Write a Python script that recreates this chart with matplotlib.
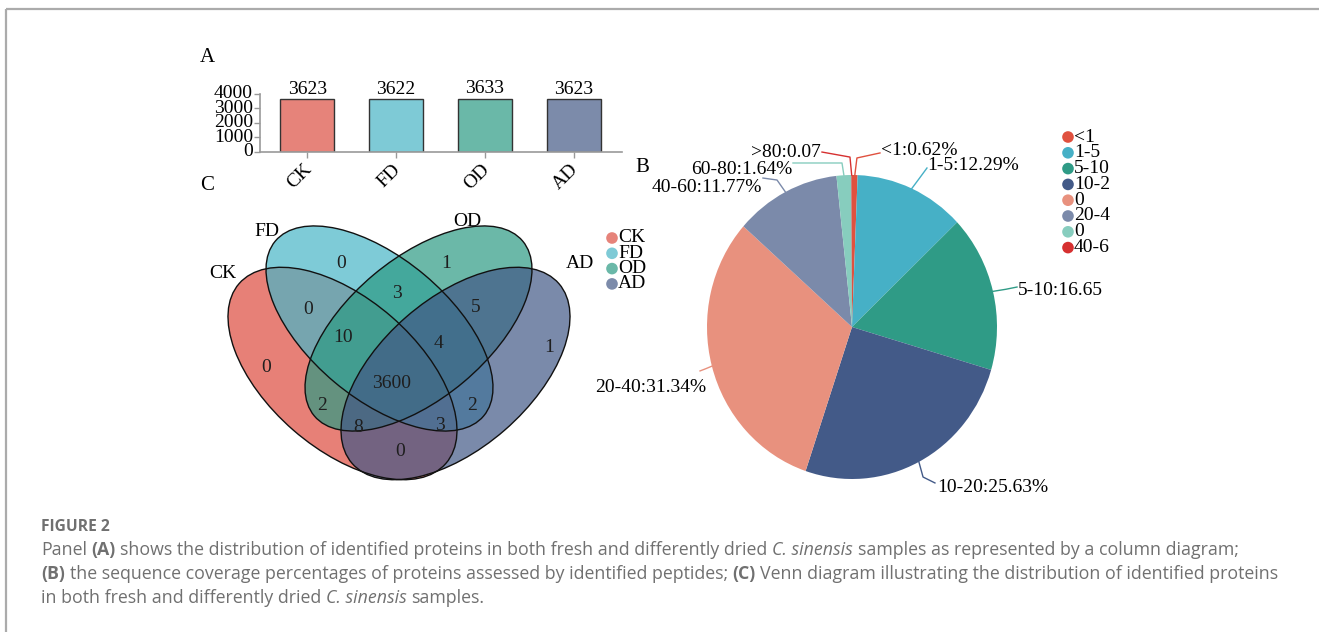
import numpy as np
import matplotlib
matplotlib.use("Agg")
import matplotlib.pyplot as plt
import matplotlib.transforms as mtransforms
from matplotlib.patches import Ellipse

W, H = 1319, 632

# ---------------- data ----------------
groups = ["CK", "FD", "OD", "AD"]
protein_counts = [3623, 3622, 3633, 3623]
group_colors = ["#E6837A", "#7ECAD6", "#6AB8A8", "#7C8BAA"]
bar_yticks = [0, 1000, 2000, 3000, 4000]

coverage_pct = [0.62, 12.29, 16.65, 25.63, 31.34, 11.77, 1.64, 0.07]
coverage_text = ["<1:0.62%", "1-5:12.29%", "5-10:16.65", "10-20:25.63%",
                 "20-40:31.34%", "40-60:11.77%", "60-80:1.64%", ">80:0.07"]
pie_colors = ["#E0513F", "#46B0C6", "#2F9B86", "#435A88",
              "#E8917E", "#7B8AAA", "#87CDBE", "#D63030"]
pie_legend_labels = ["<1", "1-5", "5-10", "10-2", "0", "20-4", "0", "40-6"]

venn_regions = ["FD", "OD", "CK&FD", "FD&OD", "OD&AD", "CK&FD&OD", "FD&OD&AD",
                "CK", "AD", "CK&FD&OD&AD", "CK&OD", "FD&AD", "CK&OD&AD",
                "CK&FD&AD", "CK&AD"]
venn_counts = [0, 1, 0, 3, 5, 10, 4, 0, 1, 3600, 2, 2, 8, 3, 0]
venn_fill = ["#DE4A3E", "#47B5C7", "#2C9A83", "#425886"]

caption_lines = [
    [("Panel ", "normal", "normal"), ("(A)", "bold", "normal"),
     (" shows the distribution of identified proteins in both fresh and differently dried ", "normal", "normal"),
     ("C. sinensis", "normal", "italic"),
     (" samples as represented by a column diagram;", "normal", "normal")],
    [("(B)", "bold", "normal"),
     (" the sequence coverage percentages of proteins assessed by identified peptides; ", "normal", "normal"),
     ("(C)", "bold", "normal"),
     (" Venn diagram illustrating the distribution of identified proteins", "normal", "normal")],
    [("in both fresh and differently dried ", "normal", "normal"),
     ("C. sinensis", "normal", "italic"), (" samples.", "normal", "normal")],
]

# ---------------- layout helpers ----------------
SERIF = ["Liberation Serif", "DejaVu Serif"]
plt.rcParams["font.family"] = SERIF

fig = plt.figure(figsize=(W / 100, H / 100), dpi=100)


def rect(left, top, w, h):
    return [left / W, 1 - (top + h) / H, w / W, h / H]


# ---------------- Panel A: bars ----------------
axA = fig.add_axes(rect(260, 93.5, 362, 58.5))
x = np.arange(len(groups))
bars = axA.bar(x, protein_counts, width=0.6, color=group_colors,
               edgecolor="#333333", linewidth=1.0)
axA.bar_label(bars, labels=[str(v) for v in protein_counts], padding=1, fontsize=14)
axA.set_xlim(-0.53, 3.54)
axA.set_ylim(0, 4000)
axA.set_yticks(bar_yticks)
axA.set_xticks(x)
axA.set_xticklabels([])
lab_tr = mtransforms.offset_copy(axA.transData, fig=fig, x=8, y=-9, units="dots")
for xi, g in zip(x, groups):
    axA.text(xi, 0, g, rotation=45, ha="right", va="top", fontsize=14,
             transform=lab_tr, clip_on=False)
axA.tick_params(axis="y", labelsize=14, length=4, width=1, color="#999999", pad=1)
axA.tick_params(axis="x", length=4, width=1, color="#999999", pad=2)
for s in ["top", "right"]:
    axA.spines[s].set_visible(False)
for s in ["left", "bottom"]:
    axA.spines[s].set_color("#9a9a9a")
    axA.spines[s].set_linewidth(1.2)
for lab in axA.get_yticklabels():
    lab.set_verticalalignment("center")

# ---------------- Panel C: Venn (axes units = pixels) ----------------
axC = fig.add_axes(rect(200, 180, 400, 320))
axC.set_xlim(200, 600)
axC.set_ylim(500, 180)
axC.axis("off")
# (centre, semi-major, semi-minor, angle)
ell_specs = [((342.5, 373.5), 137, 75, 41),
             ((379.5, 328.5), 136, 70, 40),
             ((418.5, 328.5), 136, 70, -40),
             ((455.5, 373.5), 137, 75, -41)]
for (c, a, b, ang), col in zip(ell_specs, venn_fill):
    axC.add_patch(Ellipse(c, 2 * a, 2 * b, angle=ang, facecolor=col, alpha=0.7,
                          edgecolor="none", zorder=1))
for (c, a, b, ang) in ell_specs:
    axC.add_patch(Ellipse(c, 2 * a, 2 * b, angle=ang, facecolor="none",
                          edgecolor="#111111", linewidth=1.0, zorder=2))

venn_pos = {
    "FD": (341, 263), "OD": (446, 263), "CK&FD": (308, 309),
    "FD&OD": (397, 293), "OD&AD": (476, 307), "CK&FD&OD": (343, 337),
    "FD&OD&AD": (438, 344), "CK": (266, 368), "AD": (549, 348),
    "CK&FD&OD&AD": (392, 383), "CK&OD": (322, 406), "FD&AD": (472, 406),
    "CK&OD&AD": (358, 427), "CK&FD&AD": (440, 425), "CK&AD": (400, 452),
}
for reg, cnt in zip(venn_regions, venn_counts):
    px, py = venn_pos[reg]
    axC.text(px, py, str(cnt), ha="center", va="center", fontsize=14,
             color="#1e1e1e", zorder=3)
set_label_pos = [(223, 274), (267, 231), (467, 221), (580, 263)]
for g, (px, py) in zip(groups, set_label_pos):
    axC.text(px, py, g, ha="center", va="center", fontsize=14, color="black")

# ---------------- Panel B: pie ----------------
axB = fig.add_axes(rect(562, 23, 580, 608))
wedges, _ = axB.pie(coverage_pct, colors=pie_colors, startangle=90,
                    counterclock=False, radius=1.0,
                    wedgeprops=dict(linewidth=0))
axB.set_aspect("auto")
axB.set_xlim(-2, 2)
axB.set_ylim(-2, 2)
axB.axis("off")

# leader lines: (elbow, end, text anchor, ha)
leader = [
    ((0.034, 1.112), (0.193, 1.145), (0.200, 1.160), "left"),
    ((0.470, 0.985), (0.517, 1.046), (0.522, 1.062), "left"),
    ((1.060, 0.248), (1.138, 0.263), (1.145, 0.240), "left"),
    ((0.490, -0.987), (0.572, -1.026), (0.586, -1.053), "left"),
    ((-1.010, -0.275), (-1.048, -0.289), (-1.005, -0.395), "right"),
    ((-0.517, 0.967), (-0.614, 0.980), (-0.622, 0.915), "right"),
    ((-0.069, 1.079), (-0.407, 1.079), (-0.414, 1.039), "right"),
    ((-0.014, 1.118), (-0.207, 1.151), (-0.214, 1.151), "right"),
]
for wdg, txt, col, (elb, end, tp, ha) in zip(wedges, coverage_text, pie_colors, leader):
    mid = np.deg2rad((wdg.theta1 + wdg.theta2) / 2)
    sx, sy = np.cos(mid), np.sin(mid)
    axB.plot([sx, elb[0], end[0]], [sy, elb[1], end[1]], color=col, lw=1.0,
             solid_joinstyle="round")
    axB.text(tp[0], tp[1], txt, ha=ha, va="center", fontsize=14, color="black")

# ---------------- overlay (pixel coords) ----------------
ov = fig.add_axes([0, 0, 1, 1], zorder=10)
ov.set_xlim(0, W)
ov.set_ylim(H, 0)
ov.axis("off")
ov.patch.set_alpha(0)

# frame
ov.plot([6, W], [9, 9], color="#ABABAB", lw=1.6, solid_capstyle="butt")
ov.plot([6, 6], [9, H], color="#ABABAB", lw=1.6, solid_capstyle="butt")

# panel letters
ov.text(207, 57, "A", fontsize=15, ha="center", va="center")
ov.text(207, 186, "C", fontsize=15, ha="center", va="center")
ov.text(642, 167, "B", fontsize=15, ha="center", va="center")

# venn legend
for i, (g, c) in enumerate(zip(groups, group_colors)):
    yy = 238 + i * 15.3
    ov.scatter([612], [yy], s=70, color=c, edgecolor="none")
    ov.text(618, yy, g, fontsize=14, ha="left", va="center")

# pie legend
for i, (lab, c) in enumerate(zip(pie_legend_labels, pie_colors)):
    yy = 137 + i * 15.8
    ov.scatter([1068], [yy], s=70, color=c, edgecolor="none")
    ov.text(1074, yy, lab, fontsize=14, ha="left", va="center")

# caption
renderer = fig.canvas.get_renderer()
CAP_FONT = ["Open Sans", "DejaVu Sans"]
CAP_COLOR = "#707070"


def text_w(s, size, weight, style):
    t = ov.text(0, 0, s, fontsize=size, fontweight=weight, fontstyle=style,
                family=CAP_FONT)
    w = t.get_window_extent(renderer).width
    t.remove()
    return w


def space_w(size):
    return text_w("a a", size, "normal", "normal") - text_w("aa", size, "normal", "normal")


def line_width(runs, size):
    sp = space_w(size)
    tot = 0
    for s, wt, st in runs:
        lead = len(s) - len(s.lstrip(" "))
        trail = len(s) - len(s.rstrip(" "))
        tot += (lead + trail) * sp + text_w(s.strip(" "), size, wt, st)
    return tot


def draw_runs(x0, ybase, runs, size):
    sp = space_w(size)
    xx = x0
    for s, wt, st in runs:
        lead = len(s) - len(s.lstrip(" "))
        trail = len(s) - len(s.rstrip(" "))
        xx += lead * sp
        core = s.strip(" ")
        t = ov.text(xx, ybase, core, fontsize=size, fontweight=wt, fontstyle=st,
                    family=CAP_FONT, color=CAP_COLOR, ha="left", va="baseline")
        xx += t.get_window_extent(renderer).width + trail * sp


base = 11.0
w1 = line_width(caption_lines[0], base)
cap_size = base * (1238 - 41) / w1

ov.text(41, 531, "FIGURE 2", fontsize=cap_size * 0.88, fontweight="bold",
        family=CAP_FONT, color="#707070", ha="left", va="baseline")
for runs, yb in zip(caption_lines, [555, 579, 603]):
    draw_runs(41, yb, runs, cap_size)

fig.savefig("out.png", dpi=100)
